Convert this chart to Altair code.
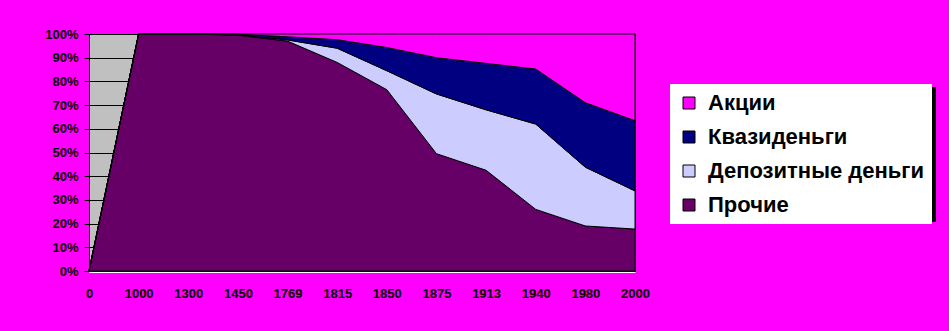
import altair as alt
import pandas as pd

years = ["0", "1000", "1300", "1450", "1769", "1815", "1850", "1875", "1913", "1940", "1980", "2000"]
series = ["Акции", "Квазиденьги", "Депозитные деньги", "Прочие"]
colors = ["#FF00FF", "#000080", "#CCCCFF", "#660066"]

prochie = [0, 100, 100, 99.5, 97, 88, 76.5, 49.5, 42.5, 26, 19, 17.7]
depozit = [0, 0, 0, 0.2, 0.5, 6, 8, 25.2, 25.5, 36, 24.8, 16.1]
kvazi = [0, 0, 0, 0.2, 1.3, 3.6, 9.8, 15.3, 19.6, 23.2, 27.2, 29.6]
akcii = [0, 0, 0, 0.1, 1.2, 2.4, 5.7, 10, 12.4, 14.8, 29, 36.6]

rows = []
for name, vals, order in [("Прочие", prochie, 0), ("Депозитные деньги", depozit, 1),
                          ("Квазиденьги", kvazi, 2), ("Акции", akcii, 3)]:
    for y, v in zip(years, vals):
        rows.append({"year": y, "series": name, "value": v / 100.0, "ord": order})
df = pd.DataFrame(rows)

FONT = "Liberation Sans"

areas = alt.Chart(df).mark_area(stroke="black", strokeWidth=1, opacity=1).encode(
    x=alt.X("year:O", sort=years, scale=alt.Scale(type="point", padding=0),
            axis=alt.Axis(title=None, labelAngle=0, ticks=False, tickSize=0, domainColor="white",
                          domainWidth=1, offset=1, labelPadding=15, labelFont=FONT,
                          labelFontSize=13, labelFontWeight="bold", labelColor="black", grid=False)),
    y=alt.Y("value:Q", stack="zero", scale=alt.Scale(domain=[0, 1], nice=False),
            axis=alt.Axis(title=None, values=[i / 10 for i in range(11)], format=".0%",
                          domain=False, tickSize=5, tickColor="black", grid=True, gridColor="black",
                          gridOpacity=1, gridWidth=1, labelPadding=6, labelFont=FONT,
                          labelFontSize=13, labelFontWeight="bold", labelColor="black")),
    color=alt.Color("series:N", scale=alt.Scale(domain=series, range=colors),
                    legend=alt.Legend(title=None, orient="none", legendX=581, legendY=50,
                                      fillColor="white", padding=8, rowPadding=12,
                                      symbolType="square", symbolSize=144, symbolStrokeColor="black",
                                      symbolStrokeWidth=1, symbolOpacity=1, labelOffset=8,
                                      labelFont=FONT, labelFontSize=22, labelFontWeight="bold",
                                      labelColor="black", labelLimit=400, zindex=1)),
    order=alt.Order("ord:Q", sort="ascending"),
)

shadow = alt.Chart(pd.DataFrame({"k": [0]})).mark_rect(color="black").encode(
    x=alt.value(584), x2=alt.value(847), y=alt.value(53), y2=alt.value(188)
)

chart = alt.layer(shadow, areas).properties(
    width=546, height=237,
    background="#FF00FF",
    autosize=alt.AutoSizeParams(type="none"),
    padding={"left": 89, "top": 34, "right": 314, "bottom": 60},
).configure_view(fill="#C0C0C0", stroke="black", strokeWidth=1)

chart.save("out.html", embed_options={"renderer": "svg", "actions": False})
